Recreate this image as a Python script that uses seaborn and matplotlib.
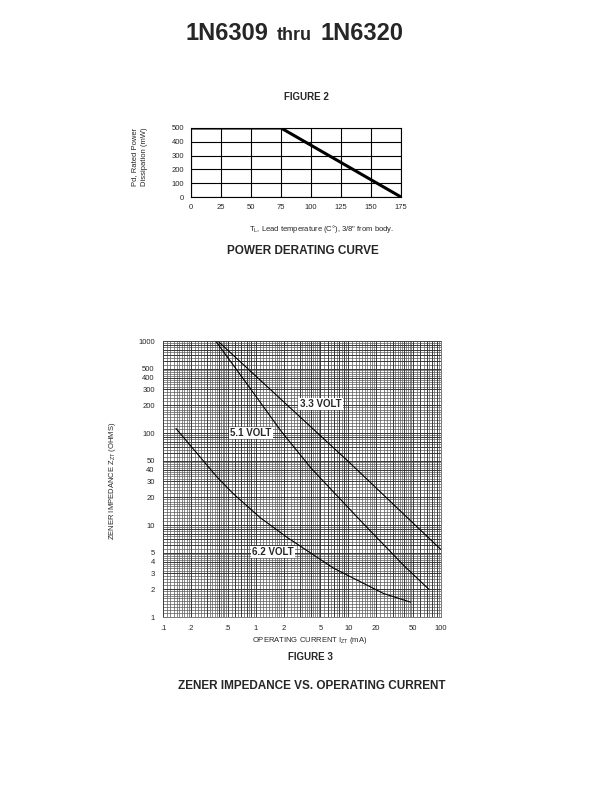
import numpy as np
import matplotlib
matplotlib.use("Agg")
import matplotlib.pyplot as plt
import seaborn as sns

sns.set_style("white")
plt.rcParams["font.family"] = ["Liberation Sans", "DejaVu Sans"]
plt.rcParams["mathtext.default"] = "regular"

# Figure 2: power derating curve
derate_temp = [0, 75, 175]
derate_power = [500, 500, 0]
temp_ticks = [0, 25, 50, 75, 100, 125, 150, 175]
power_ticks = [0, 100, 200, 300, 400, 500]

# Figure 3: zener impedance vs operating current
curve_33_i = [0.39, 1.0, 10, 100]
curve_33_z = [1000, 417, 49, 5.4]
curve_51_i = [0.37, 0.6, 1.0, 1.85, 4, 15, 40, 74]
curve_51_z = [1000, 513, 253, 107, 41, 10, 3.6, 2.0]
curve_62_i = [0.138, 0.385, 0.57, 1.12, 2.2, 6.9, 24, 47]
curve_62_z = [112, 33, 22, 12, 7.3, 3.4, 1.8, 1.45]
cur_ticks = [0.1, 0.2, 0.5, 1, 2, 5, 10, 20, 50, 100]
cur_labels = [".1", ".2", ".5", "1", "2", "5", "10", "20", "50", "100"]
imp_ticks = [1, 2, 3, 4, 5, 10, 20, 30, 40, 50, 100, 200, 300, 400, 500, 1000]

W, H = 612, 792
fig = plt.figure(figsize=(6.12, 7.92), dpi=100)


def box(l, t, r, b):
    return [l / W, 1 - b / H, (r - l) / W, (b - t) / H]


def log_paper(lo_dec, hi_dec):
    lines = []
    for d in range(lo_dec, hi_dec):
        base = 10.0 ** d
        vals = list(np.arange(1.0, 2.0, 0.1)) + list(np.arange(2.0, 5.0, 0.2)) + list(np.arange(5.0, 10.0, 0.5))
        lines += [v * base for v in vals]
    return lines


# title
fig.text(268 / W, 1 - 34 / H, "1N6309", ha="right", va="center", fontsize=17, fontweight="bold")
fig.text(294 / W, 1 - 35 / H, "thru", ha="center", va="center", fontsize=13, fontweight="bold")
fig.text(320 / W, 1 - 34 / H, "1N6320", ha="left", va="center", fontsize=17, fontweight="bold")

# ---- Figure 2 ----
fig.text(306 / W, 1 - 97 / H, "FIGURE 2", ha="center", va="center", fontsize=7, fontweight="bold")
ax1 = fig.add_axes(box(191, 128, 401, 197))
sns.lineplot(x=derate_temp, y=derate_power, ax=ax1, color="black", lw=2.2)
ax1.set_xlim(0, 175)
ax1.set_ylim(0, 500)
ax1.set_xticks(temp_ticks)
ax1.set_yticks(power_ticks)
ax1.grid(True, color="black", lw=0.8)
ax1.tick_params(length=0, labelsize=5.5, pad=5)
for s in ax1.spines.values():
    s.set_color("black")
    s.set_linewidth(0.8)
fig.text(140 / W, 1 - 157 / H, "Pd, Rated Power\nDissipation (mW)", rotation=90,
         ha="center", va="center", fontsize=5.5, linespacing=1.6)
fig.text(322 / W, 1 - 229 / H, "T$_L$, Lead temperature (C°), 3/8\" from body.",
         ha="center", va="center", fontsize=5.5)
fig.text(303 / W, 1 - 251 / H, "POWER DERATING CURVE", ha="center", va="center",
         fontsize=8.5, fontweight="bold")

# ---- Figure 3 ----
ax2 = fig.add_axes(box(163, 341, 441, 617))
ax2.set_xscale("log")
ax2.set_yscale("log")
ax2.set_xlim(0.1, 100)
ax2.set_ylim(1, 1000)
for v in log_paper(-1, 2):
    ax2.axvline(v, color="#5a5a5a", lw=0.5, zorder=0)
for v in log_paper(0, 3):
    ax2.axhline(v, color="#5a5a5a", lw=0.5, zorder=0)
for d in [0.1, 1, 10, 100]:
    for m in range(1, 10):
        ax2.axvline(d * m, color="#2a2a2a", lw=0.55, zorder=0)
        ax2.axhline(d * m * 10, color="#2a2a2a", lw=0.55, zorder=0)
sns.lineplot(x=curve_33_i, y=curve_33_z, ax=ax2, color="black", lw=0.8)
sns.lineplot(x=curve_51_i, y=curve_51_z, ax=ax2, color="black", lw=0.8)
sns.lineplot(x=curve_62_i, y=curve_62_z, ax=ax2, color="black", lw=0.8)
ax2.set_xlim(0.1, 100)
ax2.set_ylim(1, 1000)
ax2.set_xticks(cur_ticks)
ax2.set_xticklabels(cur_labels)
ax2.set_yticks(imp_ticks)
ax2.set_yticklabels([str(t) for t in imp_ticks])
ax2.minorticks_off()
ax2.tick_params(length=0, labelsize=5.5, pad=6)
for s in ax2.spines.values():
    s.set_color("#444444")
    s.set_linewidth(0.5)

lbl = dict(ha="center", va="center", fontsize=7, fontweight="bold",
           bbox=dict(facecolor="white", edgecolor="none", pad=1))
ax2.text(5.0, 206, "3.3 VOLT", **lbl)
ax2.text(0.89, 100, "5.1 VOLT", **lbl)
ax2.text(1.54, 5.1, "6.2 VOLT", **lbl)

fig.text(113 / W, 1 - 481 / H, "ZENER IMPEDANCE Z$_{ZT}$ (OHMS)", rotation=90,
         ha="center", va="center", fontsize=5.5)
fig.text(310 / W, 1 - 640 / H, "OPERATING CURRENT I$_{ZT}$ (mA)", ha="center",
         va="center", fontsize=5.5)
fig.text(310 / W, 1 - 657 / H, "FIGURE 3", ha="center", va="center", fontsize=7,
         fontweight="bold")
fig.text(312 / W, 1 - 686 / H, "ZENER IMPEDANCE VS. OPERATING CURRENT", ha="center",
         va="center", fontsize=8.5, fontweight="bold")

fig.savefig("out.png", dpi=100)
